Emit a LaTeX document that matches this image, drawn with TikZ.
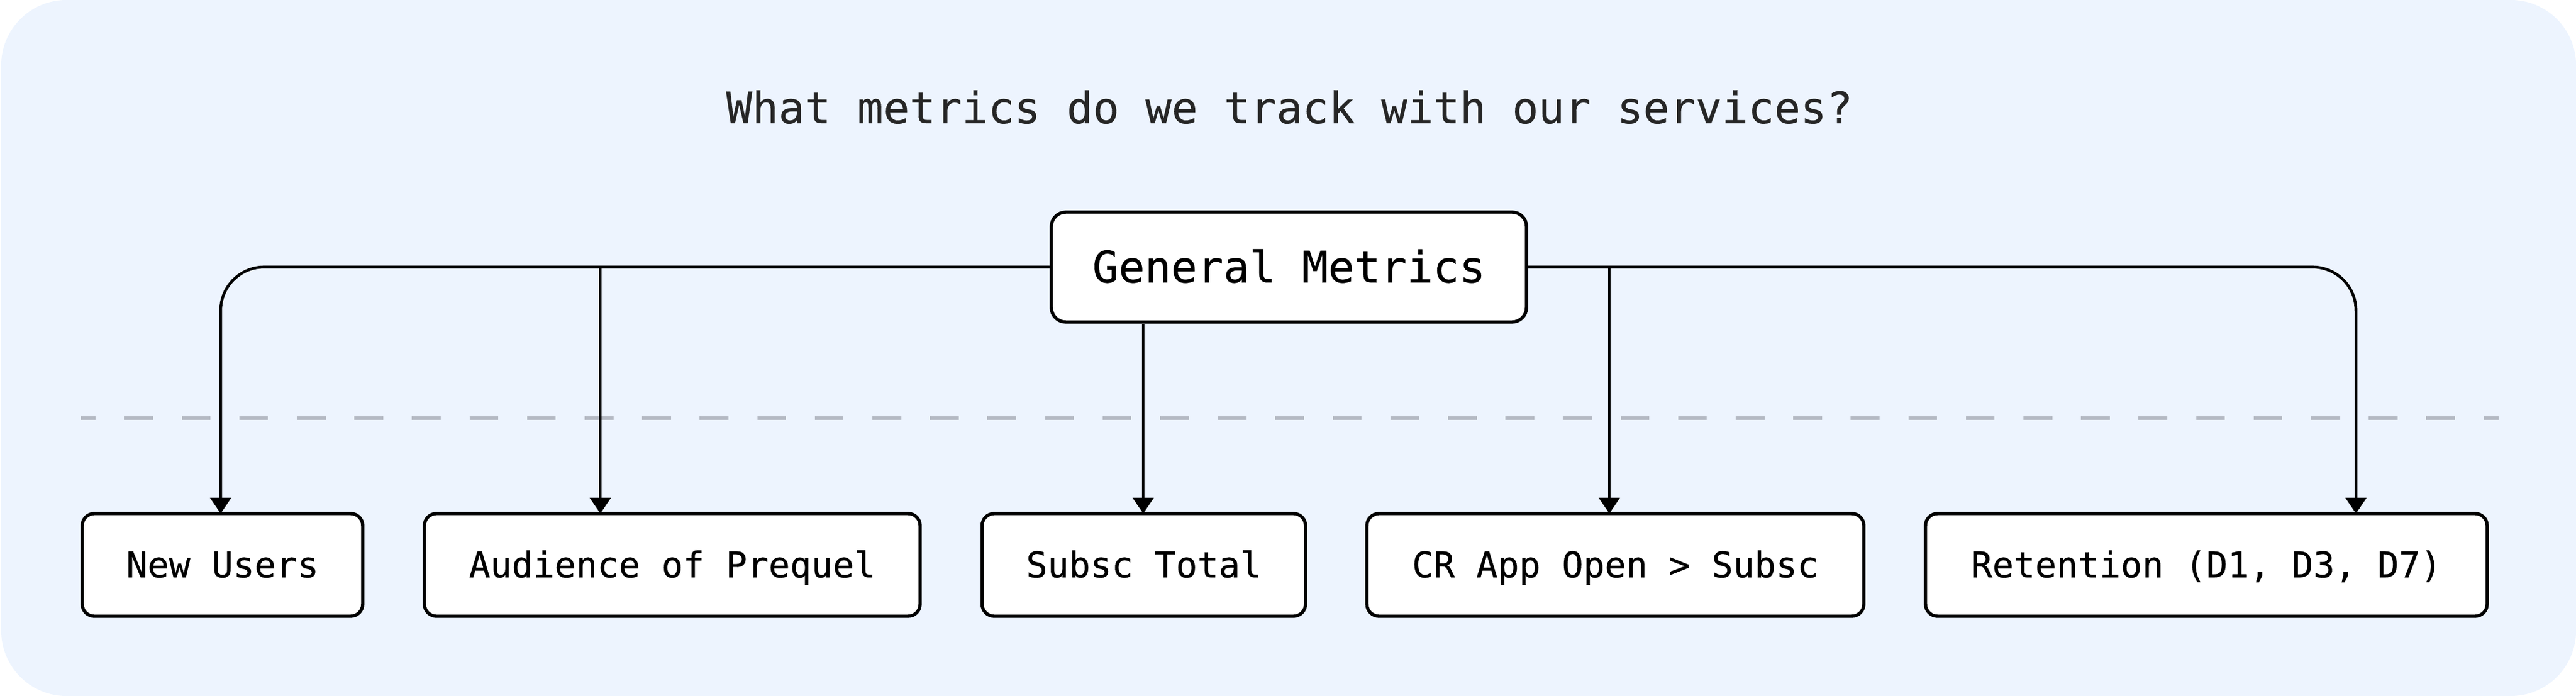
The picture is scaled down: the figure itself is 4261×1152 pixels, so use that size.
\documentclass[tikz,border=0pt]{standalone}
\usepackage{fontspec}
\newfontfamily\monof[FakeBold=0.35]{DejaVu Sans Mono}
\newfontfamily\monot[FakeBold=0.2]{DejaVu Sans Mono}
\usetikzlibrary{arrows.meta}
\definecolor{bgblue}{RGB}{237,244,254}
\definecolor{titlegray}{RGB}{38,38,38}
\definecolor{dashgray}{RGB}{180,185,195}
\tikzset{
  box/.style={draw=black, line width=1.35pt, fill=white, rounded corners=5pt,
    minimum height=42.5pt, inner sep=0pt, font=\monof\fontsize{14.7}{16}\selectfont,
    text height=10.3pt, text depth=0pt},
  mainbox/.style={box, rounded corners=6pt, minimum height=45.5pt,
    font=\monof\fontsize{18}{20}\selectfont, text height=12.7pt},
  conn/.style={draw=black, line width=1.15pt, -{Triangle[length=6.5pt,width=8.5pt]}},
  guide/.style={draw=dashgray, line width=1.4pt, dash pattern=on 11.9pt off 11.9pt, dash phase=5.95pt}
}
\begin{document}
\begin{tikzpicture}[x=0.25pt, y=-0.25pt]
\useasboundingbox (0,0) rectangle (4261,1152);
\fill[bgblue, rounded corners=27pt] (2,0) rectangle (4261,1152);

\node[anchor=base, text=titlegray, font=\monot\fontsize{18}{20}\selectfont] (title) at (2133,204) {What metrics do we track with our services?};

\draw[guide] (134,692) -- (4133,692);

\node[mainbox, minimum width=196.5pt] (gm) at (2132,442) {General Metrics};

\node[box, minimum width=116pt]    (nu) at (368,935)    {New Users};
\node[box, minimum width=205pt]    (au) at (1112,935)   {Audience of Prequel};
\node[box, minimum width=133.75pt] (st) at (1892,935)   {Subsc Total};
\node[box, minimum width=205.5pt]  (cr) at (2672,935)   {CR App Open > Subsc};
\node[box, minimum width=232.25pt] (rt) at (3649.5,935) {Retention (D1, D3, D7)};

\coordinate (t1) at (365,850);
\coordinate (t2) at (993,850);
\coordinate (t3) at (1891,850);
\coordinate (t4) at (2662,850);
\coordinate (t5) at (3897,850);

\draw[conn, rounded corners=18pt] (gm.west) -| (t1);
\draw[conn] (gm.west -| t2) -- (t2);
\draw[conn] (gm.south -| t3) -- (t3);
\draw[conn] (gm.east -| t4) -- (t4);
\draw[conn, rounded corners=18pt] (gm.east) -| (t5);
\end{tikzpicture}
\end{document}
